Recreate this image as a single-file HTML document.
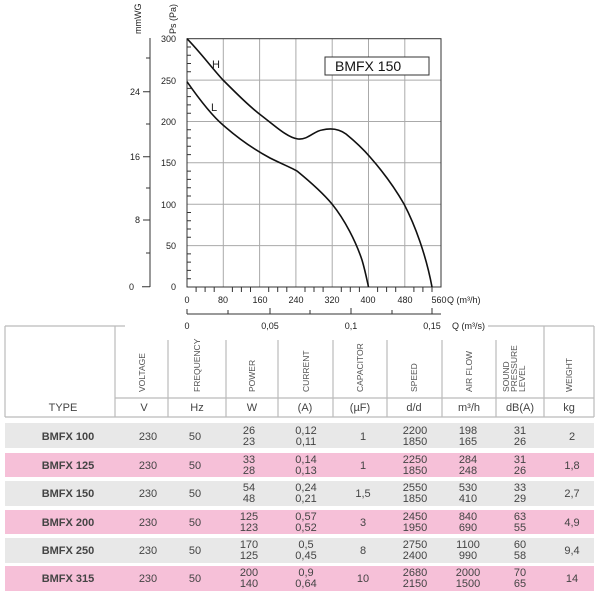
<!DOCTYPE html>
<html><head><meta charset="utf-8"><style>
body{margin:0;width:600px;height:600px;background:#fff;overflow:hidden;font-family:"Liberation Sans",sans-serif;}
svg{position:absolute;left:0;top:0}
</style></head><body>
<svg width="600" height="600" viewBox="0 0 600 600" font-family="Liberation Sans, sans-serif">
<g stroke="#aaa" stroke-width="1">
<line x1="223.3" y1="38.7" x2="223.3" y2="287"/><line x1="259.6" y1="38.7" x2="259.6" y2="287"/>
<line x1="295.9" y1="38.7" x2="295.9" y2="287"/><line x1="332.2" y1="38.7" x2="332.2" y2="287"/>
<line x1="368.5" y1="38.7" x2="368.5" y2="287"/><line x1="404.8" y1="38.7" x2="404.8" y2="287"/>
<line x1="187" y1="80.1" x2="441" y2="80.1"/><line x1="187" y1="121.5" x2="441" y2="121.5"/>
<line x1="187" y1="162.8" x2="441" y2="162.8"/><line x1="187" y1="204.2" x2="441" y2="204.2"/>
<line x1="187" y1="245.6" x2="441" y2="245.6"/>
</g>
<rect x="187" y="38.7" width="254" height="248.3" fill="none" stroke="#333" stroke-width="1"/>
<g stroke="#333" stroke-width="1">
<path d="M187,47 h4 M187,55.3 h4 M187,63.5 h4 M187,71.8 h4 M187,88.4 h4 M187,96.6 h4 M187,104.9 h4 M187,113.2 h4 M187,129.8 h4 M187,138 h4 M187,146.3 h4 M187,154.6 h4 M187,171.1 h4 M187,179.4 h4 M187,187.7 h4 M187,196 h4 M187,212.5 h4 M187,220.8 h4 M187,229 h4 M187,237.3 h4 M187,253.9 h4 M187,262.1 h4 M187,270.4 h4 M187,278.7 h4"/>
<path d="M196.1,287 v5 M205.1,287 v5 M214.2,287 v5 M232.4,287 v5 M241.4,287 v5 M250.5,287 v5 M268.7,287 v5 M277.7,287 v5 M286.8,287 v5 M305,287 v5 M314,287 v5 M323.1,287 v5 M341.3,287 v5 M350.3,287 v5 M359.4,287 v5 M377.6,287 v5 M386.6,287 v5 M395.7,287 v5 M413.9,287 v5 M422.9,287 v5 M432,287 v5"/>
<line x1="150" y1="38" x2="150" y2="287"/>
<path d="M143,91.7 h7 M143,156.7 h7 M143,220 h7 M142,286.7 h8 M146,58 h4 M146,124 h4 M146,188 h4 M146,253 h4"/>
<line x1="187" y1="314" x2="441" y2="314"/>
<path d="M187,314 v-5 M228,314 v-4 M270,314 v-6 M310,314 v-4 M351,314 v-6 M392,314 v-4 M432,314 v-6"/>
</g>
<g fill="none" stroke="#111" stroke-width="1.6" stroke-linejoin="round">
<path d="M187,38.7 C200,52 212,68 223,80 C236,93 250,107 262,116 C275,126 288,138 298,139 C308,140 314,131 322,130 C330,128 338,128 346,134 C357,143 364,150 370,157 C385,174 396,190 404,204 C415,225 426,255 432,287"/>
<path d="M187,81.7 C197,96 210,114 223,125 C240,140 255,150 270,158 C282,164 292,168 297,171 C308,180 322,192 332,204 C345,220 356,242 362,260 C365,270 367,280 368.5,287"/>
</g>
<g font-size="11" fill="#222" text-anchor="middle">
<text x="216" y="68">H</text><text x="214" y="111">L</text>
</g>
<rect x="325" y="57" width="104" height="18" fill="#fff" stroke="#333"/>
<text x="335" y="71" font-size="14" fill="#111">BMFX 150</text>
<g font-size="9" fill="#222" text-anchor="end">
<text x="176" y="42">300</text><text x="176" y="84">250</text><text x="176" y="125">200</text>
<text x="176" y="166">150</text><text x="176" y="208">100</text><text x="176" y="249">50</text><text x="176" y="290">0</text>
<text x="140" y="95">24</text><text x="140" y="160">16</text><text x="140" y="223">8</text><text x="134" y="290">0</text>
</g>
<g font-size="9" fill="#222" text-anchor="middle">
<text x="187" y="303">0</text><text x="223" y="303">80</text><text x="260" y="303">160</text><text x="296" y="303">240</text>
<text x="332" y="303">320</text><text x="368" y="303">400</text><text x="405" y="303">480</text><text x="439" y="303">560</text>
<text x="187" y="329">0</text><text x="270" y="329">0,05</text><text x="351" y="329">0,1</text><text x="432" y="329">0,15</text>
</g>
<text x="447" y="303" font-size="9" fill="#222">Q (m³/h)</text>
<text x="452" y="329" font-size="9" fill="#222">Q (m³/s)</text>
<text transform="translate(176,34) rotate(-90)" font-size="9" fill="#222">Ps (Pa)</text>
<text transform="translate(141,34) rotate(-90)" font-size="9" fill="#222">mmWG</text>
<g stroke="#bbb" stroke-width="1.2" fill="none">
<path d="M5,326 H125 M488,326 H594 M5,326 V417 M594,326 V417 M5,417 H594 M115,326 V417 M115,398 H594"/>
<path d="M168,340 V417 M226,340 V417 M278,340 V417 M333,340 V417 M387,340 V417 M442,340 V417 M496,340 V417 M544,326 V417"/>
</g>
<g font-size="8.5" fill="#555">
<text transform="translate(145,392) rotate(-90)">VOLTAGE</text>
<text transform="translate(200,392) rotate(-90)">FREQUENCY</text>
<text transform="translate(255,392) rotate(-90)">POWER</text>
<text transform="translate(309,392) rotate(-90)">CURRENT</text>
<text transform="translate(363,392) rotate(-90)">CAPACITOR</text>
<text transform="translate(417,392) rotate(-90)">SPEED</text>
<text transform="translate(472,392) rotate(-90)">AIR FLOW</text>
<text transform="translate(509,392) rotate(-90)">SOUND</text>
<text transform="translate(517,392) rotate(-90)">PRESSURE</text>
<text transform="translate(525,392) rotate(-90)">LEVEL</text>
<text transform="translate(572,392) rotate(-90)">WEIGHT</text>
</g>
<g font-size="11" fill="#444" text-anchor="middle">
<text x="63" y="411">TYPE</text><text x="144" y="411">V</text><text x="197" y="411">Hz</text><text x="252" y="411">W</text>
<text x="305" y="411">(A)</text><text x="360" y="411">(µF)</text><text x="414" y="411">d/d</text><text x="469" y="411">m³/h</text>
<text x="520" y="411">dB(A)</text><text x="569" y="411">kg</text>
</g>
<rect x="5" y="423" width="589" height="25" fill="#e8e8e8"/>
<rect x="5" y="453" width="589" height="24" fill="#f6c0d8"/>
<rect x="5" y="481" width="589" height="25" fill="#e8e8e8"/>
<rect x="5" y="510" width="589" height="24" fill="#f6c0d8"/>
<rect x="5" y="538" width="589" height="25" fill="#e8e8e8"/>
<rect x="5" y="566" width="589" height="25" fill="#f6c0d8"/>
<g font-size="11" fill="#444" text-anchor="middle">
<g font-weight="bold"><text x="68" y="440">BMFX 100</text><text x="68" y="469">BMFX 125</text><text x="68" y="497">BMFX 150</text><text x="68" y="526">BMFX 200</text><text x="68" y="554">BMFX 250</text><text x="68" y="582">BMFX 315</text></g>
<g>
<text x="148" y="440">230</text><text x="148" y="469">230</text><text x="148" y="497">230</text><text x="148" y="526">230</text><text x="148" y="554">230</text><text x="148" y="582">230</text>
<text x="195" y="440">50</text><text x="195" y="469">50</text><text x="195" y="497">50</text><text x="195" y="526">50</text><text x="195" y="554">50</text><text x="195" y="582">50</text>
<text x="363" y="440">1</text><text x="363" y="469">1</text><text x="363" y="497">1,5</text><text x="363" y="526">3</text><text x="363" y="554">8</text><text x="363" y="582">10</text>
<text x="572" y="440">2</text><text x="572" y="469">1,8</text><text x="572" y="497">2,7</text><text x="572" y="526">4,9</text><text x="572" y="554">9,4</text><text x="572" y="582">14</text>
</g>
<g>
<text x="249" y="434">26</text><text x="249" y="445">23</text>
<text x="249" y="463">33</text><text x="249" y="474">28</text>
<text x="249" y="491">54</text><text x="249" y="502">48</text>
<text x="249" y="520">125</text><text x="249" y="531">123</text>
<text x="249" y="548">170</text><text x="249" y="559">125</text>
<text x="249" y="576">200</text><text x="249" y="587">140</text>
<text x="306" y="434">0,12</text><text x="306" y="445">0,11</text>
<text x="306" y="463">0,14</text><text x="306" y="474">0,13</text>
<text x="306" y="491">0,24</text><text x="306" y="502">0,21</text>
<text x="306" y="520">0,57</text><text x="306" y="531">0,52</text>
<text x="306" y="548">0,5</text><text x="306" y="559">0,45</text>
<text x="306" y="576">0,9</text><text x="306" y="587">0,64</text>
<text x="415" y="434">2200</text><text x="415" y="445">1850</text>
<text x="415" y="463">2250</text><text x="415" y="474">1850</text>
<text x="415" y="491">2550</text><text x="415" y="502">1850</text>
<text x="415" y="520">2450</text><text x="415" y="531">1950</text>
<text x="415" y="548">2750</text><text x="415" y="559">2400</text>
<text x="415" y="576">2680</text><text x="415" y="587">2150</text>
<text x="468" y="434">198</text><text x="468" y="445">165</text>
<text x="468" y="463">284</text><text x="468" y="474">248</text>
<text x="468" y="491">530</text><text x="468" y="502">410</text>
<text x="468" y="520">840</text><text x="468" y="531">690</text>
<text x="468" y="548">1100</text><text x="468" y="559">990</text>
<text x="468" y="576">2000</text><text x="468" y="587">1500</text>
<text x="520" y="434">31</text><text x="520" y="445">26</text>
<text x="520" y="463">31</text><text x="520" y="474">26</text>
<text x="520" y="491">33</text><text x="520" y="502">29</text>
<text x="520" y="520">63</text><text x="520" y="531">55</text>
<text x="520" y="548">60</text><text x="520" y="559">58</text>
<text x="520" y="576">70</text><text x="520" y="587">65</text>
</g>
</g>
</svg>
</body></html>
